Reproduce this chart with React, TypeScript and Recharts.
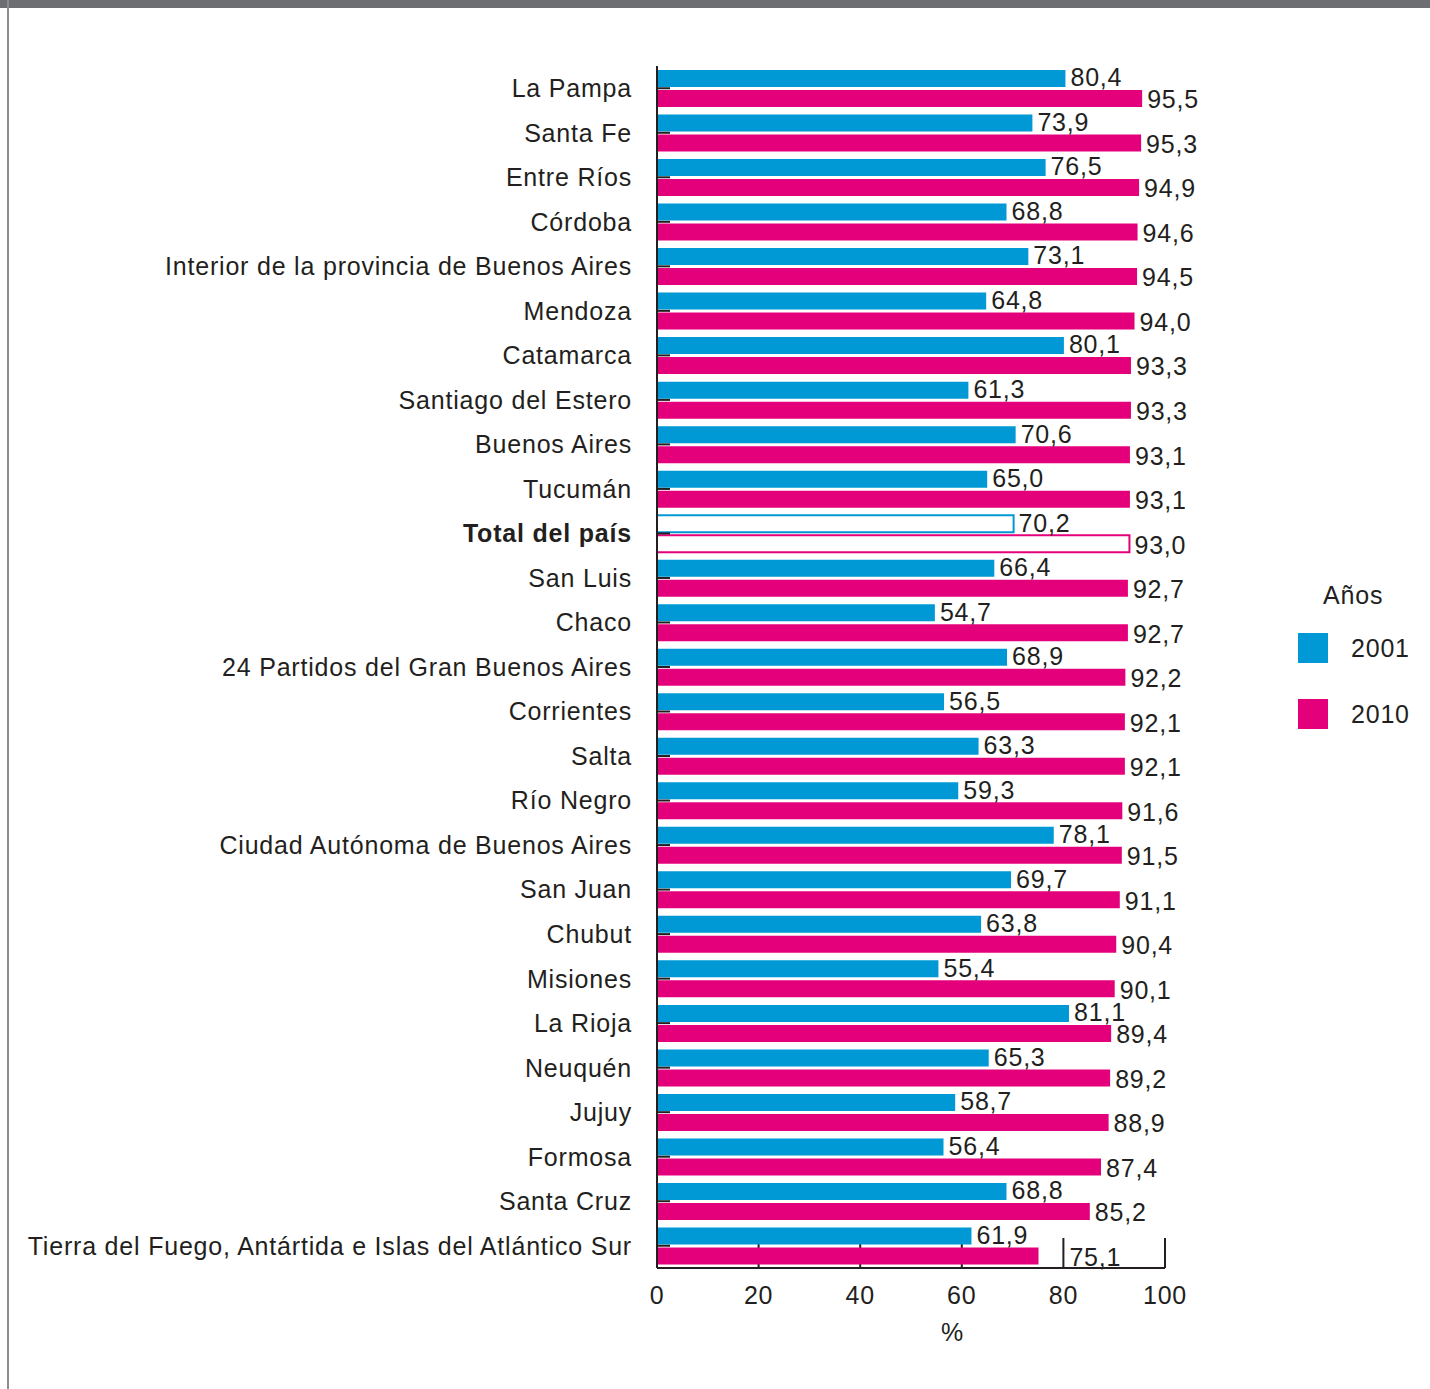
import React from 'react';
import { BarChart, Bar, XAxis, YAxis, Cell, LabelList, Label, CartesianGrid } from 'recharts';

// --- data ---
const regions = [
  'La Pampa', 'Santa Fe', 'Entre Ríos', 'Córdoba', 'Interior de la provincia de Buenos Aires',
  'Mendoza', 'Catamarca', 'Santiago del Estero', 'Buenos Aires', 'Tucumán', 'Total del país',
  'San Luis', 'Chaco', '24 Partidos del Gran Buenos Aires', 'Corrientes', 'Salta', 'Río Negro',
  'Ciudad Autónoma de Buenos Aires', 'San Juan', 'Chubut', 'Misiones', 'La Rioja', 'Neuquén',
  'Jujuy', 'Formosa', 'Santa Cruz', 'Tierra del Fuego, Antártida e Islas del Atlántico Sur',
];
const values2001 = [
  80.4, 73.9, 76.5, 68.8, 73.1, 64.8, 80.1, 61.3, 70.6, 65.0, 70.2, 66.4, 54.7, 68.9,
  56.5, 63.3, 59.3, 78.1, 69.7, 63.8, 55.4, 81.1, 65.3, 58.7, 56.4, 68.8, 61.9,
];
const values2010 = [
  95.5, 95.3, 94.9, 94.6, 94.5, 94.0, 93.3, 93.3, 93.1, 93.1, 93.0, 92.7, 92.7, 92.2,
  92.1, 92.1, 91.6, 91.5, 91.1, 90.4, 90.1, 89.4, 89.2, 88.9, 87.4, 85.2, 75.1,
];
const xTicks = [0, 20, 40, 60, 80, 100];
const TOTAL = 'Total del país';

const data = regions.map((name, i) => ({ name, y2001: values2001[i], y2010: values2010[i] }));

const BLUE = '#0099d6';
const PINK = '#e4007b';
const INK = '#231f20';
const FONT = '"Liberation Sans", Arial, Helvetica, sans-serif';
const FS = 25;
const LS = 0.8;

const series = [
  { key: 'y2001', name: '2001', color: BLUE, shift: -1 },
  { key: 'y2010', name: '2010', color: PINK, shift: 1 },
];

const fmt = (v: number) => v.toFixed(1).replace('.', ',');

const YTick = (props: any) => {
  const { x, y, payload } = props;
  const bold = payload.value === TOTAL;
  return (
    <g>
      <line x1={x + 25} y1={y} x2={x + 38} y2={y} stroke={INK} strokeWidth={2} />
      <text x={x} y={y} dy="0.355em" textAnchor="end" fill={INK} fontFamily={FONT}
        fontSize={FS} letterSpacing={LS} fontWeight={bold ? 'bold' : 'normal'}>
        {payload.value}
      </text>
    </g>
  );
};

const XTick = (props: any) => {
  const { x, y, payload } = props;
  return (
    <text x={x} y={y + 27} dy="0.355em" textAnchor="middle" fill={INK} fontFamily={FONT}
      fontSize={FS} letterSpacing={LS}>
      {payload.value}
    </text>
  );
};

// inward tick marks drawn through the grid so bars sit on top of them
const gridTick = (props: any) => (
  <line key={props.key} x1={props.x1} x2={props.x2} y1={props.y2 - 30} y2={props.y2}
    stroke={INK} strokeWidth={2} />
);

const valueLabel = (s: { key: string; shift: number }) => (props: any) => {
  const { x, y, width, height, value, index } = props;
  let lx = x + width + 5;
  // bottom-row bar sits among the tick marks: push the label past a tick it would cross
  if (index === data.length - 1 && s.key === 'y2010' && value > 0) {
    const pxPerUnit = width / value;
    const labelW = 52;
    for (const t of xTicks) {
      const tx = x + t * pxPerUnit;
      if (tx > lx - 2 && tx < lx + labelW) lx = tx + 6;
    }
  }
  return (
    <text x={lx} y={y + height / 2 + s.shift} dy="0.355em" fill={INK}
      fontFamily={FONT} fontSize={FS} letterSpacing={LS}>
      {fmt(value)}
    </text>
  );
};

const LegendBox = () => (
  <div style={{ position: 'absolute', left: 1298, top: 578, fontFamily: FONT, fontSize: FS, letterSpacing: LS, color: INK }}>
    <div style={{ position: 'absolute', left: 25, top: 0, lineHeight: '34px' }}>Años</div>
    {series.map((s, i) => (
      <div key={s.key} style={{ position: 'absolute', left: 0, top: 55 + i * 66, display: 'flex', alignItems: 'center', height: 30 }}>
        <span style={{ width: 30, height: 30, background: s.color, display: 'inline-block' }} />
        <span style={{ marginLeft: 23, lineHeight: '30px' }}>{s.name}</span>
      </div>
    ))}
  </div>
);

export default function App() {
  return (
    <div style={{ position: 'absolute', left: 0, top: 0, width: 1430, height: 1389, background: '#fff' }}>
      <div style={{ position: 'absolute', left: 0, top: 0, width: 1430, height: 8, background: '#6d6e71' }} />
      <div style={{ position: 'absolute', left: 7, top: 0, width: 2, height: 1389, background: '#8c8c8e' }} />
      <BarChart
        width={1430}
        height={1389}
        data={data}
        layout="vertical"
        margin={{ top: 66, right: 265, left: 0, bottom: 0 }}
        barGap={3}
      >
        <CartesianGrid horizontal={false} vertical={gridTick} />
        <XAxis
          type="number"
          domain={[0, 100]}
          ticks={xTicks}
          height={121}
          stroke={INK}
          strokeWidth={2}
          tickLine={false}
          tickSize={0}
          tickMargin={0}
          tick={<XTick />}
        >
          <Label value="%" position="insideBottom" offset={48} dx={41} fill={INK}
            style={{ fontFamily: FONT, fontSize: FS }} />
        </XAxis>
        <YAxis
          type="category"
          dataKey="name"
          width={657}
          stroke={INK}
          strokeWidth={2}
          tickLine={false}
          tickSize={0}
          tickMargin={25}
          interval={0}
          tick={<YTick />}
        />
        {series.map((s) => (
          <Bar key={s.key} dataKey={s.key} name={s.name} fill={s.color} barSize={17} isAnimationActive={false}>
            {data.map((d, i) => (
              <Cell key={`${s.key}-${i}`} fill={d.name === TOTAL ? '#fff' : s.color}
                stroke={d.name === TOTAL ? s.color : 'none'} strokeWidth={2} />
            ))}
            <LabelList dataKey={s.key} content={valueLabel(s)} />
          </Bar>
        ))}
      </BarChart>
      <LegendBox />
    </div>
  );
}
